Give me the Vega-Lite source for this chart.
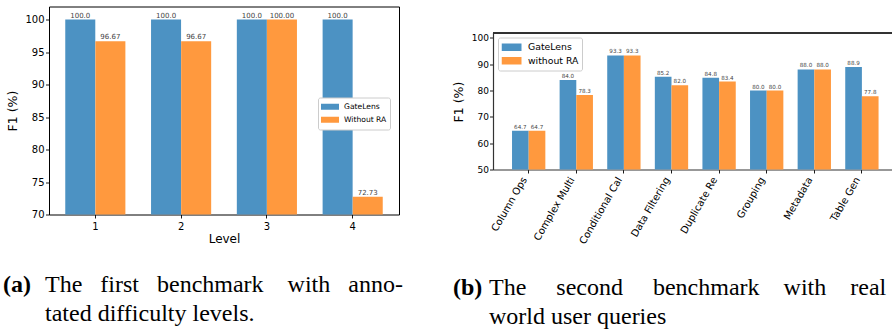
{
  "$schema": "https://vega.github.io/schema/vega-lite/v6.json",
  "background": "white",
  "padding": {"left": 2, "top": 5.5, "right": 0, "bottom": 0},
  "spacing": 48,
  "config": {
    "font": "DejaVu Sans",
    "axis": {"grid": false, "domain": false, "labelOverlap": false, "tickColor": "black", "tickSize": 3.5, "tickWidth": 0.9, "labelColor": "black", "titleColor": "black", "titleFontWeight": "normal", "labelFont": "DejaVu Sans", "titleFont": "DejaVu Sans"},
    "view": {"stroke": "black", "strokeWidth": 1}
  },
  "resolve": {"scale": {"color": "independent"}, "legend": {"color": "independent"}},
  "hconcat": [
    {
      "width": 350,
      "height": 208,
      "data": {"values": [
        {"level": "1", "method": "GateLens", "f1": 100.0},
        {"level": "1", "method": "Without RA", "f1": 96.67},
        {"level": "2", "method": "GateLens", "f1": 100.0},
        {"level": "2", "method": "Without RA", "f1": 96.67},
        {"level": "3", "method": "GateLens", "f1": 100.0},
        {"level": "3", "method": "Without RA", "f1": 100.0},
        {"level": "4", "method": "GateLens", "f1": 100.0},
        {"level": "4", "method": "Without RA", "f1": 72.73}
      ]},
      "title": {
        "text": "(a)",
        "subtitle": ["\u200b\u00a0\u00a0\u00a0\u00a0\u00a0\u00a0\u00a0The \u00a0\u00a0first \u00a0\u00a0benchmark \u00a0\u00a0\u00a0with \u00a0\u00a0anno-", "\u200b\u00a0\u00a0\u00a0\u00a0\u00a0\u00a0\u00a0tated difficulty levels."],
        "orient": "bottom", "anchor": "start", "frame": "group", "dx": -46, "offset": 29,
        "font": "Liberation Serif", "fontSize": 24, "fontWeight": "bold", "color": "black",
        "subtitleFont": "Liberation Serif", "subtitleFontSize": 24, "subtitleFontWeight": "normal", "subtitleColor": "black",
        "subtitlePadding": -24, "subtitleLineHeight": 29
      },
      "encoding": {
        "x": {"field": "level", "type": "nominal", "title": "Level",
          "scale": {"paddingInner": 0.3, "paddingOuter": 0.19},
          "axis": {"labelAngle": 0, "labelFontSize": 10, "titleFontSize": 12, "labelPadding": 3, "titlePadding": 2}},
        "y": {"field": "f1", "type": "quantitative", "title": "F1 (%)",
          "scale": {"domain": [70, 102], "nice": false, "zero": false},
          "axis": {"values": [70, 75, 80, 85, 90, 95, 100], "labelFontSize": 10, "titleFontSize": 12.5, "labelPadding": 1.5, "titlePadding": 5}},
        "color": {"field": "method", "type": "nominal",
          "scale": {"domain": ["GateLens", "Without RA"], "range": ["#4c92c3", "#ff993e"]},
          "legend": {"orient": "none", "legendX": 269, "legendY": 91, "title": null,
            "symbolType": "M-1,-0.333H1V0.333H-1Z", "symbolSize": 324, "symbolStrokeWidth": 0,
            "labelFont": "DejaVu Sans", "labelFontSize": 7.6, "labelColor": "black", "labelOffset": 5,
            "fillColor": "white", "strokeColor": "#cccccc", "cornerRadius": 2, "padding": 3,
            "clipHeight": 12.5, "rowPadding": 0}}
      },
      "layer": [
        {
          "transform": [{"filter": "datum.method === 'GateLens'"}],
          "mark": {"type": "bar", "clip": true, "width": {"band": 0.5}, "xOffset": -15.05}
        },
        {
          "transform": [{"filter": "datum.method === 'Without RA'"}],
          "mark": {"type": "bar", "clip": true, "width": {"band": 0.5}, "xOffset": 15.05}
        },
        {
          "transform": [{"filter": "datum.method === 'GateLens'"}],
          "mark": {"type": "text", "baseline": "bottom", "dy": -1, "xOffset": -15.05, "fontSize": 7, "font": "DejaVu Sans"},
          "encoding": {"text": {"field": "f1", "type": "quantitative", "format": ".1f"}, "color": {"value": "#444444"}}
        },
        {
          "transform": [{"filter": "datum.method === 'Without RA'"}],
          "mark": {"type": "text", "baseline": "bottom", "dy": -1, "xOffset": 15.05, "fontSize": 7, "font": "DejaVu Sans"},
          "encoding": {"text": {"field": "f1", "type": "quantitative", "format": ".2f"}, "color": {"value": "#444444"}}
        }
      ]
    },
    {
      "width": 399,
      "height": 163,
      "view": {"stroke": null},
      "data": {"values": [
        {"task": "Column Ops", "method": "GateLens", "f1": 64.7},
        {"task": "Column Ops", "method": "without RA", "f1": 64.7},
        {"task": "Complex Multi", "method": "GateLens", "f1": 84.0},
        {"task": "Complex Multi", "method": "without RA", "f1": 78.3},
        {"task": "Conditional Cal", "method": "GateLens", "f1": 93.3},
        {"task": "Conditional Cal", "method": "without RA", "f1": 93.3},
        {"task": "Data Filtering", "method": "GateLens", "f1": 85.2},
        {"task": "Data Filtering", "method": "without RA", "f1": 82.0},
        {"task": "Duplicate Re", "method": "GateLens", "f1": 84.8},
        {"task": "Duplicate Re", "method": "without RA", "f1": 83.4},
        {"task": "Grouping", "method": "GateLens", "f1": 80.0},
        {"task": "Grouping", "method": "without RA", "f1": 80.0},
        {"task": "Metadata", "method": "GateLens", "f1": 88.0},
        {"task": "Metadata", "method": "without RA", "f1": 88.0},
        {"task": "Table Gen", "method": "GateLens", "f1": 88.9},
        {"task": "Table Gen", "method": "without RA", "f1": 77.8}
      ]},
      "title": {
        "text": "(b)",
        "subtitle": ["\u200b\u00a0\u00a0\u00a0\u00a0\u00a0\u00a0The \u00a0\u00a0\u00a0\u00a0second \u00a0\u00a0\u00a0\u00a0benchmark \u00a0\u00a0\u00a0with \u00a0\u00a0\u00a0real", "\u200b\u00a0\u00a0\u00a0\u00a0\u00a0\u00a0world user queries"],
        "orient": "bottom", "anchor": "start", "frame": "group", "dx": -40, "offset": 30,
        "font": "Liberation Serif", "fontSize": 24, "fontWeight": "bold", "color": "black",
        "subtitleFont": "Liberation Serif", "subtitleFontSize": 24, "subtitleFontWeight": "normal", "subtitleColor": "black",
        "subtitlePadding": -24, "subtitleLineHeight": 29
      },
      "layer": [
        {
          "mark": {"type": "rule", "color": "#333333", "strokeWidth": 1.2},
          "encoding": {"y": {"datum": 102, "type": "quantitative", "title": "F1 (%)",
            "scale": {"domain": [50, 111.9], "nice": false, "zero": false},
            "axis": {"domain": true, "domainColor": "#333333", "domainWidth": 1.2, "domainDash": [137, 300], "values": [50, 60, 70, 80, 90, 100], "labelOverlap": false, "labelFontSize": 9, "titleFontSize": 12.5, "labelPadding": 1, "titlePadding": 6, "titleY": 95}}}
        },
        {
          "encoding": {
            "x": {"field": "task", "type": "nominal", "title": null,
              "scale": {"paddingInner": 0.3, "paddingOuter": 0.341, "align": 0.586},
              "axis": {"domain": true, "domainColor": "#333333", "domainWidth": 1.2, "labelAngle": -60, "labelAlign": "right", "labelBaseline": "middle", "labelFontSize": 10, "labelPadding": 4.5, "labelOffset": -4}},
            "y": {"field": "f1", "type": "quantitative", "title": "F1 (%)",
              "scale": {"domain": [50, 111.9], "nice": false, "zero": false},
              "axis": {"domain": true, "domainColor": "#333333", "domainWidth": 1.2, "domainDash": [137, 300], "values": [50, 60, 70, 80, 90, 100], "labelOverlap": false, "labelFontSize": 9, "titleFontSize": 12.5, "labelPadding": 1, "titlePadding": 6, "titleY": 95}},
            "color": {"field": "method", "type": "nominal",
              "scale": {"domain": ["GateLens", "without RA"], "range": ["#4c92c3", "#ff993e"]},
              "legend": {"orient": "none", "legendX": 5, "legendY": 31, "title": null,
                "symbolType": "M-1,-0.38H1V0.38H-1Z", "symbolSize": 400, "symbolStrokeWidth": 0,
                "labelFont": "DejaVu Sans", "labelFontSize": 9.3, "labelColor": "black", "labelOffset": 6.5,
                "fillColor": "white", "strokeColor": "#cccccc", "cornerRadius": 2, "padding": 3.5,
                "clipHeight": 12.5, "rowPadding": 0.5}}
          },
          "layer": [
            {
              "transform": [{"filter": "datum.method === 'GateLens'"}],
              "mark": {"type": "bar", "clip": true, "width": {"band": 0.5}, "xOffset": -8.33}
            },
            {
              "transform": [{"filter": "datum.method === 'without RA'"}],
              "mark": {"type": "bar", "clip": true, "width": {"band": 0.5}, "xOffset": 8.33}
            },
            {
              "transform": [{"filter": "datum.method === 'GateLens'"}],
              "mark": {"type": "text", "baseline": "bottom", "dy": -1, "xOffset": -8.33, "fontSize": 5.6, "font": "DejaVu Sans"},
              "encoding": {"text": {"field": "f1", "type": "quantitative", "format": ".1f"}, "color": {"value": "#444444"}}
            },
            {
              "transform": [{"filter": "datum.method === 'without RA'"}],
              "mark": {"type": "text", "baseline": "bottom", "dy": -1, "xOffset": 8.33, "fontSize": 5.6, "font": "DejaVu Sans"},
              "encoding": {"text": {"field": "f1", "type": "quantitative", "format": ".1f"}, "color": {"value": "#444444"}}
            }
          ]
        }
      ]
    }
  ]
}
